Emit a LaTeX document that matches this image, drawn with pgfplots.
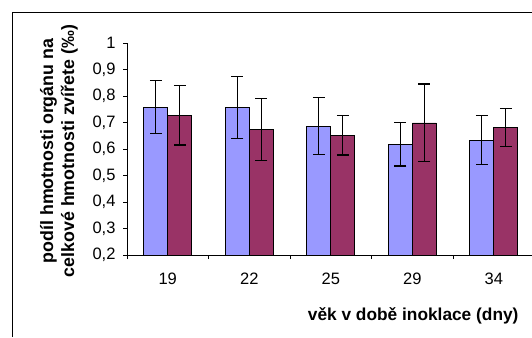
\documentclass[border=0pt]{standalone}
\usepackage{pgfplots}
\pgfplotsset{compat=1.18}
\usepackage{pgfplotstable}
\usepackage{fontspec}
\setmainfont{Liberation Sans}

\definecolor{barblue}{RGB}{153,153,255}
\definecolor{barred}{RGB}{153,51,102}

% age at inoculation (days): organ weight share (per mille) with error
\pgfplotstableread{
x blue bluee red rede
0 0.758 0.100 0.728 0.112
1 0.758 0.118 0.675 0.117
2 0.687 0.108 0.653 0.075
3 0.618 0.082 0.699 0.147
4 0.634 0.093 0.682 0.073
}\datatable

\begin{document}
\begin{tikzpicture}
\useasboundingbox (0pt,0pt) rectangle (532pt,337pt);
% chart area border (runs off the right and bottom edges)
\draw[line width=1.1pt, black] (12.7pt,0pt) -- (12.7pt,324.3pt) -- (532pt,324.3pt);
\begin{axis}[
  at={(127pt,82pt)}, anchor=south west,
  scale only axis, width=405pt, height=211.7pt,
  xmin=-0.5, xmax=4.4693, ymin=0.2, ymax=1,
  axis x line*=bottom, axis y line*=left,
  axis line style={line width=0.9pt, black},
  ybar=0pt, bar width=24pt,
  xtick={0,1,2,3,4},
  xticklabels={19,22,25,29,34},
  minor xtick={-0.5,0.5,1.5,2.5,3.5},
  major x tick style={draw=none},
  minor x tick style={line width=0.9pt, black},
  minor tick length=4pt,
  ytick={0.2,0.3,0.4,0.5,0.6,0.7,0.8,0.9,1},
  yticklabels={{0,2},{0,3},{0,4},{0,5},{0,6},{0,7},{0,8},{0,9},{1}},
  major y tick style={line width=0.9pt, black},
  major tick length=4pt,
  tick align=outside,
  tick label style={font=\fontsize{16.5}{19}\selectfont},
  xticklabel style={anchor=base, yshift=-25pt},
  yticklabel style={anchor=east, xshift=-4pt},
  every axis y label/.style={at={(axis description cs:-0.1679,0.491)}, rotate=90, anchor=center, align=center,
    font=\fontsize{17.8}{21}\selectfont\bfseries},
  ylabel={podíl hmotnosti orgánu na\\celkové hmotnosti zvířete (‰)},
  every axis x label/.style={at={(axis description cs:0.9753,-0.3094)}, anchor=base east,
    font=\fontsize{17.3}{20}\selectfont\bfseries},
  xlabel={věk v době inoklace (dny)},
  clip=false,
]
\addplot[fill=barblue, draw=black, line width=0.9pt,
  error bars/.cd, y dir=both, y explicit,
  error bar style={line width=1.2pt, black},
  error mark options={rotate=90, mark size=6pt, line width=1.2pt, black}]
  table[x=x, y=blue, y error=bluee] {\datatable};
\addplot[fill=barred, draw=black, line width=0.9pt,
  error bars/.cd, y dir=both, y explicit,
  error bar style={line width=1.2pt, black},
  error mark options={rotate=90, mark size=6pt, line width=1.2pt, black}]
  table[x=x, y=red, y error=rede] {\datatable};
\end{axis}
\end{tikzpicture}
\end{document}
